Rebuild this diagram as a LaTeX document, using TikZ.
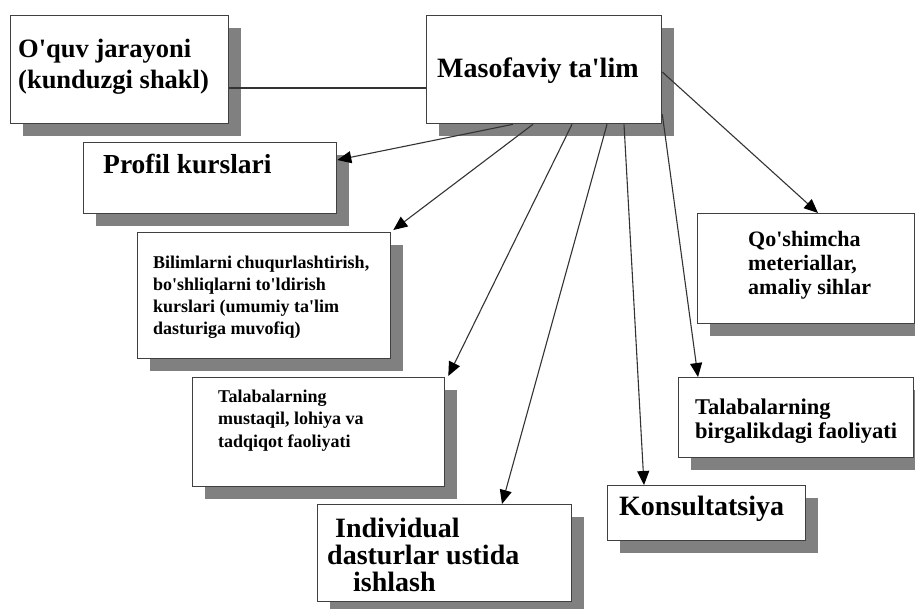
\documentclass[tikz,border=0pt]{standalone}
\usepackage{fontspec}
\setmainfont{Liberation Serif}
\usetikzlibrary{shadows,arrows.meta}
\newcommand\ap{\textquotesingle}
\tikzset{
  box/.style={draw=black!75, line width=1.3pt, fill=white, rectangle, inner sep=0pt, anchor=north west,
    drop shadow={shadow xshift=12pt, shadow yshift=-12pt, fill=black!50, opacity=1, draw=none}},
  txt/.style={anchor=base west, inner sep=0pt, font=\bfseries},
  conn/.style={draw=black!80, line width=1.1pt, -{Triangle[length=14pt,width=12pt,color=black]}},
  plainline/.style={draw=black!80, line width=1.1pt}
}
\begin{document}
\begin{tikzpicture}[x=1pt,y=-1pt]
\useasboundingbox (0,0) rectangle (915,608);
% boxes
\node[box, minimum width=218pt, minimum height=108pt] (o) at (10,15) {};
\node[box, minimum width=235pt, minimum height=108pt] (m) at (426,15) {};
\node[box, minimum width=253pt, minimum height=71pt] (p) at (83,142) {};
\node[box, minimum width=217pt, minimum height=110pt] (q) at (697,213) {};
\node[box, minimum width=253pt, minimum height=126pt] (b) at (137,232) {};
\node[box, minimum width=252pt, minimum height=109pt] (tm) at (192,377) {};
\node[box, minimum width=235pt, minimum height=80pt] (tb) at (678,377) {};
\node[box, minimum width=198pt, minimum height=55pt] (k) at (607,485) {};
\node[box, minimum width=254pt, minimum height=97pt] (i) at (317,504) {};
% texts
\node[txt] (to) at (18,57) {\parbox[t]{300pt}{\fontsize{26.5}{31}\selectfont O\ap quv jarayoni\\(kunduzgi shakl)}};
\node[txt] (tmas) at (437,77) {\fontsize{28}{32}\selectfont Masofaviy ta\ap lim};
\node[txt] (tp) at (103,173) {\fontsize{27.5}{32}\selectfont Profil kurslari};
\node[txt] (tq) at (748,246) {\parbox[t]{300pt}{\raggedright\fontsize{22}{24}\selectfont Qo\ap shimcha\\meteriallar,\\amaliy sihlar}};
\node[txt] (tbil) at (153,268) {\parbox[t]{300pt}{\raggedright\fontsize{18}{22}\selectfont Bilimlarni chuqurlashtirish,\\bo\ap shliqlarni to\ap ldirish\\kurslari (umumiy ta\ap lim\\dasturiga muvofiq)}};
\node[txt] (ttm) at (218,402) {\parbox[t]{300pt}{\raggedright\fontsize{18}{22.5}\selectfont Talabalarning\\mustaqil, lohiya va\\tadqiqot faoliyati}};
\node[txt] (ttb) at (695,414) {\parbox[t]{300pt}{\raggedright\fontsize{22.5}{24}\selectfont Talabalarning\\birgalikdagi faoliyati}};
\node[txt] (tk) at (619,515) {\fontsize{28}{32}\selectfont Konsultatsiya};
\node[txt] (ti) at (327,537) {\parbox[t]{300pt}{\raggedright\fontsize{28}{27}\selectfont \hspace*{8pt}Individual\\dasturlar ustida\\\hspace*{26pt}ishlash}};
% connectors
\draw[plainline] ([yshift=-73pt]o.north east) -- ([yshift=-73pt]m.north west);
\draw[conn] ([xshift=87pt]m.south west) -- ([yshift=-18pt]p.north east);
\draw[conn] ([xshift=107pt]m.south west) -- ([xshift=2pt,yshift=2pt]b.north east);
\draw[conn] ([xshift=146pt]m.south west) -- ([xshift=3pt,yshift=1pt]tm.north east);
\draw[conn] ([xshift=181pt]m.south west) -- ([xshift=185pt]i.north west);
\draw[conn] ([xshift=198pt]m.south west) -- ([xshift=37pt]k.north west);
\draw[conn] ([yshift=10pt]m.south east) -- ([xshift=20pt]tb.north west);
\draw[conn] ([yshift=-57pt]m.north east) -- ([xshift=121pt]q.north west);
\end{tikzpicture}
\end{document}
